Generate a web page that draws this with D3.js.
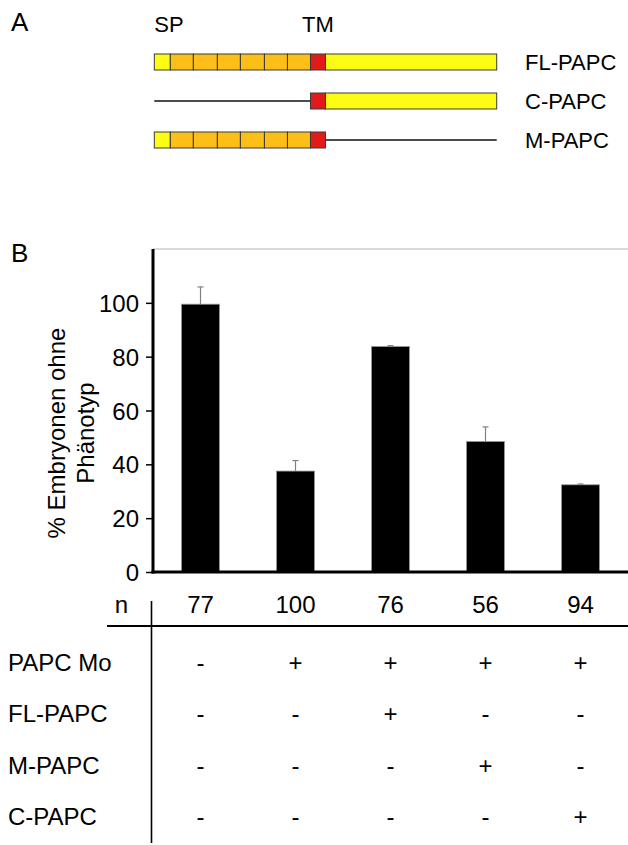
<!DOCTYPE html>
<html>
<head>
<meta charset="utf-8">
<script src="https://cdn.jsdelivr.net/npm/d3@7"></script>
<style>
  body { margin: 0; background: #fff; }
  svg text { font-family: "Liberation Sans", Arial, sans-serif; fill: #000; }
</style>
</head>
<body>
<script>
// panel A: domain layout of the constructs (arbitrary length units)
var segEdges = [0, 16, 39, 63, 86, 110, 133, 156, 171, 342];
var segTypes = ["SP", "R", "R", "R", "R", "R", "R", "TM", "CT"];
var constructs = ["FL-PAPC", "C-PAPC", "M-PAPC"];
var constructParts = [[0, 1, 2, 3, 4, 5, 6, 7, 8], [7, 8], [0, 1, 2, 3, 4, 5, 6, 7]];

// panel B: bar chart + table
var nValues = [77, 100, 76, 56, 94];
var percent = [99.5, 37.5, 83.8, 48.5, 32.4];
var errors = [6.4, 3.9, 0.3, 5.4, 0.3];
var yTicks = [0, 20, 40, 60, 80, 100];
var rowLabels = ["PAPC Mo", "FL-PAPC", "M-PAPC", "C-PAPC"];
var treatment = [
  ["-", "+", "+", "+", "+"],
  ["-", "-", "+", "-", "-"],
  ["-", "-", "-", "+", "-"],
  ["-", "-", "-", "-", "+"]
];

var segColor = {SP: "#fcfc14", R: "#fdbe17", TM: "#e31a1a", CT: "#fcfc14"};

var svg = d3.select("body").append("svg")
.attr("width", 628)
.attr("height", 845);

// ---------- Panel A ----------
svg.append("text").attr("x", 11).attr("y", 31).attr("font-size", 26).text("A");

var xA = d3.scaleLinear().domain([0, 342]).range([154.3, 496.7]);
var yA = d3.scalePoint().domain(constructs).range([62, 140]);
var boxH = 16;

svg.append("text").attr("x", xA(segEdges[0])).attr("y", 32).attr("font-size", 22).text("SP");
svg.append("text").attr("x", xA((segEdges[7] + segEdges[8]) / 2)).attr("y", 32)
.attr("text-anchor", "middle").attr("font-size", 22).text("TM");

constructs.forEach(function(name, ci) {
  var parts = constructParts[ci];
  var cy = yA(name);
  var first = parts[0], last = parts[parts.length - 1];
  // backbone line for the missing part
  if (segEdges[first] > segEdges[0]) {
    svg.append("line").attr("x1", xA(segEdges[0])).attr("x2", xA(segEdges[first]))
    .attr("y1", cy).attr("y2", cy).attr("stroke", "#111").attr("stroke-width", 1.5);
  }
  if (segEdges[last + 1] < segEdges[segEdges.length - 1]) {
    svg.append("line").attr("x1", xA(segEdges[last + 1])).attr("x2", xA(segEdges[segEdges.length - 1]))
    .attr("y1", cy).attr("y2", cy).attr("stroke", "#111").attr("stroke-width", 1.5);
  }
  svg.selectAll(null).data(parts).enter().append("rect")
  .attr("x", function(p) { return xA(segEdges[p]); })
  .attr("width", function(p) { return xA(segEdges[p + 1]) - xA(segEdges[p]); })
  .attr("y", cy - boxH / 2)
  .attr("height", boxH)
  .attr("fill", function(p) { return segColor[segTypes[p]]; })
  .attr("stroke", "#3a3a3a")
  .attr("stroke-width", 1);
  svg.append("text").attr("x", 525).attr("y", cy + 8).attr("font-size", 22).text(name);
});

// ---------- Panel B ----------
svg.append("text").attr("x", 11).attr("y", 262).attr("font-size", 26).text("B");

var idx = d3.range(nValues.length);
var x = d3.scaleBand().domain(idx).range([153, 628]).paddingInner(0.6).paddingOuter(0.3);
var y = d3.scaleLinear().domain([0, 120]).range([572, 249]);

// top frame line
svg.append("line").attr("x1", 153).attr("x2", 628).attr("y1", y(120)).attr("y2", y(120))
.attr("stroke", "#b5b5b5").attr("stroke-width", 1);

// error bars
var eb = svg.selectAll(".err").data(idx).enter().append("g").attr("class", "err");
eb.append("line")
.attr("x1", function(i) { return x(i) + x.bandwidth() / 2; })
.attr("x2", function(i) { return x(i) + x.bandwidth() / 2; })
.attr("y1", function(i) { return y(percent[i]); })
.attr("y2", function(i) { return y(percent[i] + errors[i]); })
.attr("stroke", "#808080").attr("stroke-width", 1.2);
eb.append("line")
.attr("x1", function(i) { return x(i) + x.bandwidth() / 2 - 3; })
.attr("x2", function(i) { return x(i) + x.bandwidth() / 2 + 3; })
.attr("y1", function(i) { return y(percent[i] + errors[i]); })
.attr("y2", function(i) { return y(percent[i] + errors[i]); })
.attr("stroke", "#808080").attr("stroke-width", 1.2);

// bars
svg.selectAll(".bar").data(idx).enter().append("rect")
.attr("class", "bar")
.attr("x", function(i) { return x(i); })
.attr("width", x.bandwidth())
.attr("y", function(i) { return y(percent[i]); })
.attr("height", function(i) { return y(0) - y(percent[i]); })
.attr("fill", "#000")
.attr("stroke", "#999")
.attr("stroke-width", 0.8);

// y axis
var yAxis = svg.append("g").attr("transform", "translate(153,0)")
.call(d3.axisLeft(y).tickValues(yTicks).tickSize(7).tickPadding(7).tickSizeOuter(0));
yAxis.select(".domain").remove();
yAxis.selectAll(".tick line").attr("stroke", "#000").attr("stroke-width", 1.5);
yAxis.selectAll(".tick text").attr("font-size", 24).attr("font-family", "Liberation Sans, Arial, sans-serif").attr("dy", "0.36em");
svg.append("line").attr("x1", 153).attr("x2", 153).attr("y1", y(120)).attr("y2", y(0) + 1.5)
.attr("stroke", "#000").attr("stroke-width", 3);
// x axis line
svg.append("line").attr("x1", 151.5).attr("x2", 628).attr("y1", y(0)).attr("y2", y(0))
.attr("stroke", "#000").attr("stroke-width", 3);

// y label
var yl = svg.append("text").attr("transform", "translate(0,433) rotate(-90)")
.attr("text-anchor", "middle").attr("font-size", 24);
yl.append("tspan").attr("x", 0).attr("y", 65).text("% Embryonen ohne");
yl.append("tspan").attr("x", 0).attr("y", 94).text("Phänotyp");

// ---------- table ----------
var cx = function(i) { return x(i) + x.bandwidth() / 2; };
svg.append("text").attr("x", 128).attr("y", 613).attr("text-anchor", "end").attr("font-size", 24).text("n");
svg.selectAll(".nval").data(idx).enter().append("text")
.attr("x", cx).attr("y", 613).attr("text-anchor", "middle").attr("font-size", 24)
.text(function(i) { return nValues[i]; });
svg.append("line").attr("x1", 107).attr("x2", 628).attr("y1", 626).attr("y2", 626)
.attr("stroke", "#000").attr("stroke-width", 2);
svg.append("line").attr("x1", 151.5).attr("x2", 151.5).attr("y1", 601).attr("y2", 843)
.attr("stroke", "#000").attr("stroke-width", 1.6);

var rowY = d3.scalePoint().domain(rowLabels).range([671, 825]);
rowLabels.forEach(function(lbl, r) {
  svg.append("text").attr("x", 8).attr("y", rowY(lbl)).attr("font-size", 24).text(lbl);
  svg.selectAll(null).data(idx).enter().append("text")
  .attr("x", cx).attr("y", rowY(lbl)).attr("text-anchor", "middle").attr("font-size", 24)
  .text(function(i) { return treatment[r][i]; });
});
</script>
</body>
</html>
